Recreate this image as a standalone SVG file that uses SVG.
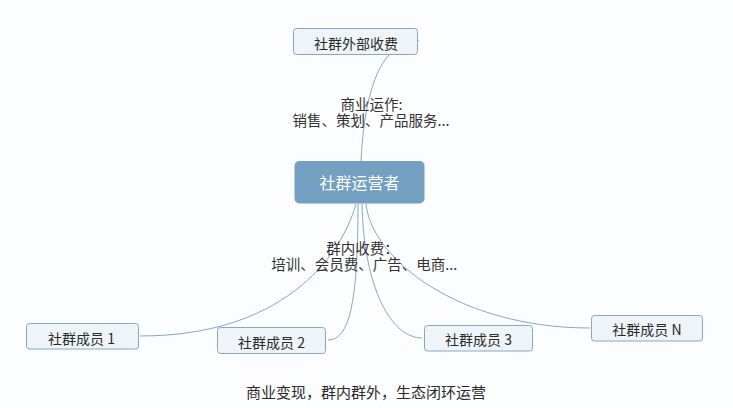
<svg xmlns="http://www.w3.org/2000/svg" width="733" height="408" viewBox="0 0 733 408">
<style>
text{font-family:"Noto Sans CJK SC","Microsoft YaHei",sans-serif;fill:#2a2a2a}
.conn path{fill:none;stroke:#86a8c4;stroke-width:1}
.leaf rect{fill:#eef4f8;stroke:#86a8c4;stroke-width:1}
.leaf text{font-size:14px;text-anchor:middle}
.lbl{font-size:14.5px;text-anchor:middle;fill:#333}
</style>
<rect width="733" height="408" fill="#fcfdfe"/>
<g id="connectors" class="conn">
<path d="M361,161 Q367,41 419,41"/>
<path d="M356,204 C340,260 280,336 140,336"/>
<path d="M358,204 C358,300 350,340 328,340"/>
<path d="M362,204 C364,290 392,338 422,338"/>
<path d="M366,204 C372,260 460,328 590,328"/>
</g>
<g id="label-top">
<text class="lbl" x="371.5" y="110.4">商业运作:</text>
<text class="lbl" x="371" y="126">销售、策划、产品服务...</text>
</g>
<g id="label-bottom">
<text class="lbl" x="362.5" y="254.1">群内收费：</text>
<text class="lbl" x="364.3" y="269.7">培训、会员费、广告、电商...</text>
</g>
<g id="node-external" class="leaf">
<rect x="293.5" y="28.5" width="124" height="26" rx="3"/>
<text x="356" y="48.6">社群外部收费</text>
</g>
<g id="node-center">
<rect x="294.5" y="161" width="130" height="42.5" rx="5" fill="#739fc0"/>
<text x="359.5" y="189.3" font-size="16" text-anchor="middle" fill="#ffffff" style="fill:#ffffff">社群运营者</text>
</g>
<g id="node-m1" class="leaf">
<rect x="26.5" y="323.5" width="112" height="25.5" rx="3"/>
<text x="81.5" y="343.6">社群成员 1</text>
</g>
<g id="node-m2" class="leaf">
<rect x="217.5" y="327.5" width="108" height="26" rx="3"/>
<text x="271.5" y="348">社群成员 2</text>
</g>
<g id="node-m3" class="leaf">
<rect x="424.5" y="325.5" width="108" height="25.5" rx="3"/>
<text x="478.5" y="345.3">社群成员 3</text>
</g>
<g id="node-mn" class="leaf">
<rect x="591.5" y="315.5" width="111" height="25.5" rx="3"/>
<text x="647" y="335.3">社群成员 N</text>
</g>
<text x="366" y="398" font-size="15" text-anchor="middle" fill="#333">商业变现，群内群外，生态闭环运营</text>
</svg>
